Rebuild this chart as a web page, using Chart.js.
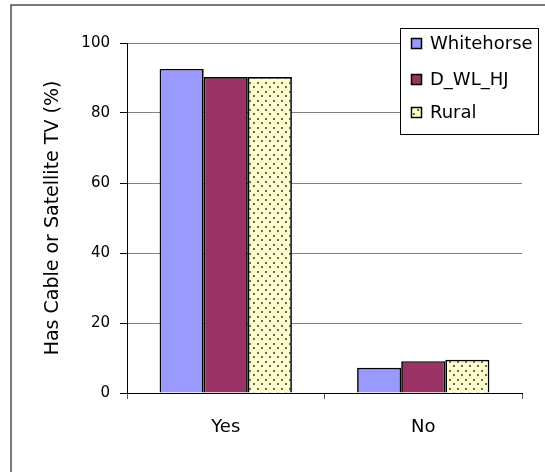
<!DOCTYPE html>
<html>
<head>
<meta charset="utf-8">
<script src="https://cdn.jsdelivr.net/npm/chart.js@4.4.0/dist/chart.umd.min.js"></script>
<style>
  html, body { margin: 0; padding: 0; background: #ffffff; }
  #wrap { width: 545px; height: 472px; position: relative; }
</style>
</head>
<body>
<div id="wrap"><canvas id="tv-chart"></canvas></div>
<script>
// Values
const categories = ['Yes', 'No'];
const seriesNames = ['Whitehorse', 'D_WL_HJ', 'Rural'];
const whitehorse = [92.6, 7.2];
const dwlhj = [90.3, 9.1];
const rural = [90.3, 9.5];
const yMin = 0;
const yMax = 100;
const yStep = 20;

const FONT = "'DejaVu Sans', Verdana, sans-serif";

// Dotted yellow fill for the Rural bars
function dotPattern() {
    const c = document.createElement('canvas');
    c.width = 8;
    c.height = 9;
    const g = c.getContext('2d');
    g.fillStyle = '#FFFFCC';
    g.fillRect(0, 0, 8, 9);
    g.fillStyle = '#666666';
    g.fillRect(1, 1, 2, 2);
    g.fillRect(5, 5, 2, 2);
    return g.createPattern(c, 'repeat');
}

// Outer frame (only top and left edges are inside the picture)
const framePlugin = {
    id: 'frame',
    beforeDraw(chart) {
        const ctx = chart.ctx;
        ctx.save();
        ctx.fillStyle = '#ffffff';
        ctx.fillRect(0, 0, chart.width, chart.height);
        ctx.strokeStyle = '#333333';
        ctx.lineWidth = 1.3;
        ctx.strokeRect(11, 5, chart.width + 20, chart.height + 20);
        ctx.restore();
    }
};

// Boxed legend sitting over the top-right of the plot
const boxLegend = {
    id: 'boxLegend',
    afterDraw(chart) {
        const ctx = chart.ctx;
        const x = 400, y = 28, w = 138, h = 106;
        ctx.save();
        ctx.fillStyle = '#ffffff';
        ctx.fillRect(x, y, w, h);
        ctx.strokeStyle = '#000000';
        ctx.lineWidth = 1;
        ctx.strokeRect(x + 0.5, y + 0.5, w, h);
        ctx.font = '18px ' + FONT;
        ctx.textBaseline = 'middle';
        const rows = [43, 79, 112];
        chart.data.datasets.forEach((ds, i) => {
            const cy = rows[i];
            ctx.fillStyle = ds.backgroundColor;
            ctx.fillRect(411, cy - 5, 11, 11);
            ctx.strokeStyle = '#000000';
            ctx.lineWidth = 1.5;
            ctx.strokeRect(411.5, cy - 4.5, 10, 10);
            ctx.fillStyle = '#000000';
            ctx.fillText(ds.label, 430, cy + 1);
        });
        ctx.restore();
    }
};

const ctx = document.getElementById('tv-chart');
new Chart(ctx, {
    type: 'bar',
    data: {
        labels: categories,
        datasets: [{
            label: seriesNames[0],
            data: whitehorse,
            backgroundColor: '#9999FF'
        }, {
            label: seriesNames[1],
            data: dwlhj,
            backgroundColor: '#993366'
        }, {
            label: seriesNames[2],
            data: rural,
            backgroundColor: dotPattern()
        }]
    },
    options: {
        responsive: true,
        maintainAspectRatio: false,
        animation: false,
        layout: {
            padding: { left: 11, top: 43, right: 23, bottom: 0 }
        },
        datasets: {
            bar: {
                borderColor: '#000000',
                borderWidth: 1.7,
                borderSkipped: 'bottom',
                barPercentage: 1,
                categoryPercentage: 0.67
            }
        },
        scales: {
            x: {
                grid: {
                    drawOnChartArea: false,
                    drawTicks: true,
                    tickLength: 6,
                    tickColor: '#555555'
                },
                border: { color: '#000000', width: 1 },
                ticks: {
                    color: '#000000',
                    padding: 18,
                    font: { family: FONT, size: 18 }
                },
                afterFit(scale) { scale.height = 79; }
            },
            y: {
                min: yMin,
                max: yMax,
                ticks: {
                    stepSize: yStep,
                    color: '#000000',
                    padding: 10,
                    font: { family: FONT, size: 15 }
                },
                grid: {
                    color: '#808080',
                    tickLength: 7,
                    tickColor: '#000000'
                },
                border: { color: '#000000', width: 1 },
                title: {
                    display: true,
                    text: 'Has Cable or Satellite TV (%)',
                    color: '#000000',
                    padding: { top: 31, bottom: 0 },
                    font: { family: FONT, size: 19 }
                },
                afterFit(scale) { scale.width = 116; }
            }
        },
        plugins: {
            legend: { display: false },
            tooltip: { enabled: false }
        }
    },
    plugins: [framePlugin, boxLegend]
});
</script>
</body>
</html>
